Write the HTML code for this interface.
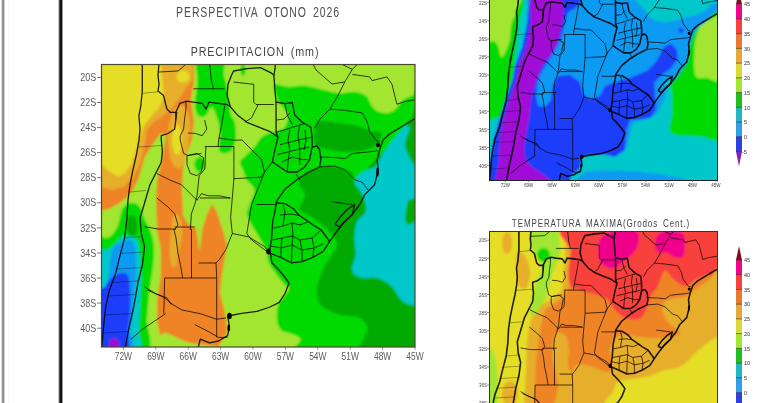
<!DOCTYPE html>
<html><head><meta charset="utf-8">
<style>
html,body{margin:0;padding:0;background:#fff;width:768px;height:403px;overflow:hidden}
svg{display:block}
text{font-family:"Liberation Sans",sans-serif}
</style></head>
<body>
<svg width="768" height="403" viewBox="0 0 768 403">
<defs>
  <filter id="bl" x="-5%" y="-5%" width="110%" height="110%"><feGaussianBlur stdDeviation="0.9"/></filter>
  <filter id="bl2"><feGaussianBlur stdDeviation="0.45"/></filter>
  <filter id="bt" x="-2%" y="-20%" width="104%" height="140%"><feGaussianBlur stdDeviation="0.3"/></filter>
  <clipPath id="cL"><rect x="101" y="64" width="314" height="283"/></clipPath>
  <clipPath id="cT"><rect x="489" y="0" width="229" height="180"/></clipPath>
  <clipPath id="cB"><rect x="489" y="231" width="229" height="172"/></clipPath>
</defs>
<rect width="768" height="403" fill="#fff"/>
<rect x="1" y="0" width="1" height="403" fill="#d8d8d8"/>
<rect x="2" y="0" width="1" height="403" fill="#9a9a9a"/>
<rect x="3" y="0" width="1" height="403" fill="#8c8c8c"/>
<rect x="4" y="0" width="1" height="403" fill="#d0d0d0"/>
<rect x="8" y="0" width="1" height="403" fill="#f6f6f6"/>
<rect x="58" y="0" width="1" height="403" fill="#c8c8c8"/>
<rect x="59" y="0" width="1" height="403" fill="#4a4a4a"/>
<rect x="60" y="0" width="2" height="403" fill="#121212"/>
<rect x="62" y="0" width="1" height="403" fill="#9a9a9a"/>

<g filter="url(#bt)">
<text x="258" y="17" font-size="14" fill="#505050" letter-spacing="1.2" word-spacing="3" text-anchor="middle" transform="translate(258 0) scale(0.75 1) translate(-258 0)">PERSPECTIVA OTONO 2026</text>
<text x="255" y="56" font-size="13.4" fill="#454545" letter-spacing="1.1" word-spacing="3" text-anchor="middle" transform="translate(255 0) scale(0.8 1) translate(-255 0)">PRECIPITACION (mm)</text>
<text x="601" y="227" font-size="11" fill="#454545" letter-spacing="1.2" word-spacing="2.5" text-anchor="middle" transform="translate(601 0) scale(0.73 1) translate(-601 0)">TEMPERATURA MAXIMA(Grodos Cent.)</text>
</g>

<g clip-path="url(#cL)">
  <g filter="url(#bl)"><rect x="90" y="55" width="340" height="300" fill="#a2e632"/><polygon points="90.0,55.0 194.0,55.0 194.0,83.0 191.0,100.0 194.0,122.0 192.0,140.0 186.0,155.0 183.0,170.0 182.0,190.0 183.0,215.0 188.0,224.0 196.0,228.0 198.0,240.0 199.0,252.0 201.0,242.0 202.0,230.0 207.0,214.0 212.0,204.0 217.0,212.0 224.0,234.0 227.0,245.0 225.0,257.0 222.0,275.0 220.0,293.0 223.0,305.0 226.0,318.0 227.0,333.0 221.0,342.0 216.0,352.0 90.0,352.0" fill="#ef8426"/><polygon points="161.0,133.0 166.0,136.0 163.4,149.6 161.0,164.5 157.0,179.4 156.0,200.0 157.0,230.0 160.8,250.0 160.8,275.0 157.0,300.0 157.0,322.0 160.0,335.0 157.0,355.0 90.0,355.0 90.0,211.0 100.0,211.0 110.0,208.6 120.0,203.0 127.0,197.0 133.0,190.0 138.0,180.0 140.0,174.0 144.8,157.0 152.3,144.7" fill="#a2e632"/><path d="M157.0,340.0 C159.5,336.2 162.0,333.5 165.0,333.0 C168.0,332.5 171.3,335.5 175.0,337.0 C178.7,338.5 182.8,340.8 187.0,342.0 C191.2,343.2 195.8,343.8 200.0,344.5 C204.2,345.2 209.0,345.2 212.0,346.0 C215.0,346.8 217.0,347.3 218.0,349.0 C219.0,350.7 229.3,354.8 218.0,356.0 C206.7,357.2 160.2,358.7 150.0,356.0 C139.8,353.3 154.5,343.8 157.0,340.0Z" fill="#a2e632"/><polygon points="90.0,55.0 193.0,55.0 192.0,80.0 186.0,88.0 180.0,98.0 172.0,108.0 163.0,116.0 155.0,121.0 149.0,127.0 147.0,130.0 145.0,143.0 140.0,163.5 133.5,177.0 124.6,186.0 113.0,190.0 100.0,187.0 90.0,186.0" fill="#e6ae2c"/><path d="M176.0,108.0 C178.3,105.7 181.8,104.8 184.0,106.0 C186.2,107.2 188.0,111.0 189.0,115.0 C190.0,119.0 190.3,124.2 190.0,130.0 C189.7,135.8 188.2,144.2 187.0,150.0 C185.8,155.8 184.7,162.0 183.0,165.0 C181.3,168.0 179.0,168.8 177.0,168.0 C175.0,167.2 172.5,164.7 171.0,160.0 C169.5,155.3 168.2,146.7 168.0,140.0 C167.8,133.3 168.7,125.3 170.0,120.0 C171.3,114.7 173.7,110.3 176.0,108.0Z" fill="#e6ae2c"/><path d="M174.0,215.0 C175.3,213.8 178.7,214.7 180.0,218.0 C181.3,221.3 182.3,228.8 182.0,235.0 C181.7,241.2 179.0,249.8 178.0,255.0 C177.0,260.2 177.2,264.5 176.0,266.0 C174.8,267.5 172.0,267.5 171.0,264.0 C170.0,260.5 169.8,251.5 170.0,245.0 C170.2,238.5 171.3,230.0 172.0,225.0 C172.7,220.0 172.7,216.2 174.0,215.0Z" fill="#e6ae2c"/><polygon points="90.0,55.0 161.0,55.0 161.0,64.6 162.6,79.4 164.0,97.0 159.0,108.0 152.0,115.0 144.0,126.0 139.0,138.0 136.0,150.0 132.0,163.0 125.0,173.0 118.0,177.0 109.0,171.0 100.0,164.0 90.0,163.0" fill="#e6dd28"/><ellipse cx="183" cy="76.5" rx="6.5" ry="6" fill="#e6dd28"/><ellipse cx="177" cy="140" rx="5" ry="15" fill="#e6dd28"/><path d="M197.0,56.0 C201.1,52.5 217.5,52.8 222.0,56.0 C226.5,59.2 223.3,70.5 224.0,75.0 C224.7,79.5 225.3,80.2 226.0,83.0 C226.7,85.8 227.5,88.5 228.0,92.0 C228.5,95.5 228.5,100.2 229.0,104.0 C229.5,107.8 230.1,112.0 231.0,115.0 C231.9,118.0 233.9,119.2 234.7,122.3 C235.5,125.4 235.8,130.2 235.9,133.5 C236.0,136.8 235.7,139.2 235.0,142.0 C234.3,144.8 233.5,148.2 232.0,150.0 C230.5,151.8 228.0,152.7 226.0,153.0 C224.0,153.3 221.2,153.4 220.0,152.0 C218.8,150.6 219.0,147.5 219.0,144.7 C219.0,141.9 220.2,138.3 220.2,135.0 C220.2,131.7 219.7,128.3 219.0,125.0 C218.3,121.7 217.0,117.8 216.0,115.0 C215.0,112.2 214.0,109.2 213.0,108.0 C212.0,106.8 211.0,107.0 210.0,108.0 C209.0,109.0 208.2,112.5 207.0,114.0 C205.8,115.5 204.3,116.7 203.0,117.0 C201.7,117.3 200.2,117.0 199.0,116.0 C197.8,115.0 196.6,113.5 196.0,111.0 C195.4,108.5 195.1,104.4 195.2,100.7 C195.3,97.0 196.3,92.8 196.7,88.8 C197.1,84.8 197.3,82.4 197.4,76.9 C197.5,71.4 192.9,59.5 197.0,56.0Z" fill="#06da06"/><ellipse cx="243" cy="70" rx="2.5" ry="6" fill="#06da06"/><ellipse cx="200" cy="164.5" rx="5.5" ry="7.5" fill="#06da06"/><path d="M274.7,84.3 C277.1,83.8 284.7,86.6 289.6,86.8 C294.6,87.0 298.5,85.0 304.4,85.6 C310.2,86.2 318.8,89.0 324.7,90.3 C330.6,91.6 334.6,93.0 339.6,93.3 C344.6,93.5 350.0,91.3 354.5,91.8 C359.0,92.3 363.4,93.8 366.4,96.3 C369.4,98.8 369.8,104.0 372.3,106.7 C374.8,109.4 377.8,111.8 381.3,112.6 C384.8,113.3 389.7,113.2 393.2,111.2 C396.7,109.2 399.0,103.2 402.1,100.7 C405.2,98.2 408.2,97.0 412.0,96.0 C415.8,95.0 422.8,51.8 425.0,95.0 C427.2,138.2 445.2,311.7 425.0,355.0 C404.8,398.3 324.6,357.7 303.8,355.0 C283.1,352.3 302.5,342.5 300.5,339.0 C298.5,335.5 295.2,335.5 292.0,334.0 C288.8,332.5 283.5,332.3 281.0,330.0 C278.5,327.7 277.5,324.2 277.0,320.0 C276.5,315.8 276.8,309.0 278.0,305.0 C279.2,301.0 282.2,298.7 284.0,296.0 C285.8,293.3 289.0,291.0 289.0,289.0 C289.0,287.0 285.6,285.9 284.0,284.0 C282.4,282.1 281.2,280.4 279.3,277.9 C277.4,275.4 274.5,272.0 272.6,269.0 C270.7,266.0 268.9,262.8 268.0,260.0 C267.1,257.2 268.0,255.0 267.0,252.0 C266.0,249.0 264.1,245.7 262.0,242.0 C259.9,238.3 257.0,234.2 254.5,229.6 C252.0,225.0 247.8,218.8 247.0,214.7 C246.2,210.6 248.3,208.9 249.6,204.8 C250.8,200.7 254.9,194.1 254.5,190.0 C254.1,185.9 248.9,183.3 247.0,180.0 C245.1,176.7 244.2,173.0 243.0,170.0 C241.8,167.0 239.7,164.3 240.0,162.0 C240.3,159.7 242.4,158.9 244.9,156.3 C247.4,153.7 251.9,149.7 254.8,146.4 C257.7,143.1 259.0,138.9 262.3,136.4 C265.6,133.9 271.1,132.9 274.7,131.5 C278.3,130.1 281.9,129.9 284.0,128.0 C286.1,126.1 287.1,122.7 287.5,120.0 C287.9,117.3 287.6,114.5 286.5,112.0 C285.4,109.5 282.6,107.2 281.0,105.0 C279.4,102.8 278.0,101.5 277.0,99.0 C276.0,96.5 275.4,92.5 275.0,90.0 C274.6,87.5 272.3,84.8 274.7,84.3Z" fill="#06da06"/><path d="M318.7,121.6 C322.9,119.9 333.1,122.4 339.6,123.1 C346.1,123.8 352.5,124.8 357.5,126.0 C362.5,127.2 365.4,129.2 369.4,130.5 C373.4,131.8 379.8,131.5 381.3,133.5 C382.8,135.5 380.3,139.9 378.3,142.4 C376.3,144.9 373.4,146.9 369.4,148.4 C365.4,149.9 359.5,150.9 354.5,151.4 C349.5,151.9 344.6,151.9 339.6,151.4 C334.6,150.9 328.7,149.4 324.7,148.4 C320.7,147.4 317.4,147.9 315.7,145.4 C314.0,142.9 313.8,137.5 314.3,133.5 C314.8,129.5 314.5,123.3 318.7,121.6Z" fill="#02aa02"/><path d="M297.9,182.0 C299.0,179.9 302.3,174.8 306.8,172.2 C311.3,169.6 319.2,167.0 324.7,166.3 C330.2,165.6 335.1,166.8 339.6,167.8 C344.1,168.8 348.5,170.2 351.5,172.2 C354.5,174.2 353.6,182.0 357.5,180.0 C361.4,178.0 368.8,166.7 375.0,160.0 C381.2,153.3 389.2,146.7 395.0,140.0 C400.8,133.3 405.0,125.0 410.0,120.0 C415.0,115.0 422.5,70.8 425.0,110.0 C427.5,149.2 435.6,314.2 425.0,355.0 C414.4,395.8 371.7,357.6 361.4,355.0 C351.1,352.4 362.4,344.1 363.4,339.5 C364.4,334.9 368.1,331.2 367.4,327.6 C366.7,324.0 363.0,319.7 359.4,317.7 C355.8,315.7 350.1,316.7 345.5,315.7 C340.9,314.7 335.9,313.7 331.6,311.7 C327.3,309.7 322.1,307.1 319.7,303.8 C317.3,300.5 317.3,295.5 317.0,292.0 C316.7,288.5 317.0,286.7 318.0,283.0 C319.0,279.3 321.1,274.2 323.0,270.0 C324.9,265.8 327.2,262.2 329.6,258.0 C332.0,253.8 337.1,248.8 337.1,244.5 C337.1,240.2 333.7,236.7 329.6,232.1 C325.5,227.5 317.2,220.9 312.3,217.2 C307.4,213.5 301.1,213.5 299.9,209.8 C298.6,206.1 304.8,199.0 304.8,194.9 C304.8,190.8 301.0,187.2 299.9,185.0 C298.8,182.8 296.8,184.1 297.9,182.0Z" fill="#02aa02"/><path d="M354.4,182.0 C354.0,185.0 357.7,187.0 359.4,190.0 C361.1,193.0 363.4,196.2 364.4,199.9 C365.4,203.6 366.9,208.6 365.6,212.3 C364.4,216.0 358.8,217.6 356.9,222.2 C355.0,226.8 354.6,234.2 354.4,239.6 C354.2,245.0 356.1,249.7 355.7,254.4 C355.3,259.1 352.1,264.6 352.0,268.0 C351.9,271.4 353.1,273.4 355.0,275.0 C356.9,276.6 359.7,277.4 363.4,277.9 C367.1,278.4 372.7,276.6 377.3,277.9 C381.9,279.2 386.9,281.9 391.2,285.9 C395.5,289.9 399.0,298.5 403.1,301.8 C407.2,305.1 412.4,305.2 416.0,305.7 C419.6,306.2 423.5,318.1 425.0,305.0 C426.5,291.9 428.0,240.5 425.0,227.0 C422.0,213.5 410.2,226.8 407.0,224.0 C403.8,221.2 405.7,214.0 406.0,210.0 C406.3,206.0 407.3,202.3 409.0,200.0 C410.7,197.7 414.8,201.0 416.0,196.0 C417.2,191.0 416.8,175.9 416.0,170.0 C415.2,164.1 412.9,164.4 411.1,160.3 C409.3,156.2 405.6,149.9 405.1,145.4 C404.6,140.9 407.4,136.5 408.1,133.5 C408.9,130.5 410.1,128.8 409.6,127.5 C409.1,126.2 406.6,125.5 405.1,126.0 C403.6,126.5 402.6,128.2 400.6,130.5 C398.6,132.8 395.9,136.0 393.2,139.5 C390.5,143.0 387.3,146.9 384.3,151.4 C381.3,155.9 379.0,162.8 375.3,166.3 C371.6,169.8 365.5,169.6 362.0,172.2 C358.5,174.8 354.8,179.0 354.4,182.0Z" fill="#02c8ca"/><path d="M88.0,237.0 C90.8,217.5 101.0,238.3 105.0,238.0 C109.0,237.7 109.8,237.2 112.0,235.0 C114.2,232.8 116.3,229.2 118.0,225.0 C119.7,220.8 120.5,213.5 122.0,210.0 C123.5,206.5 125.0,205.2 127.0,204.0 C129.0,202.8 131.8,202.5 134.0,203.0 C136.2,203.5 138.3,204.5 140.0,207.0 C141.7,209.5 142.5,214.5 144.0,218.0 C145.5,221.5 147.5,224.3 149.0,228.0 C150.5,231.7 152.2,236.0 153.0,240.0 C153.8,244.0 154.0,247.7 154.0,252.0 C154.0,256.3 153.5,261.3 153.0,266.0 C152.5,270.7 151.7,275.2 151.0,280.0 C150.3,284.8 149.7,288.3 149.0,295.0 C148.3,301.7 147.5,310.5 147.0,320.0 C146.5,329.5 155.8,346.2 146.0,352.0 C136.2,357.8 97.7,374.2 88.0,355.0 C78.3,335.8 85.2,256.5 88.0,237.0Z" fill="#06da06"/><ellipse cx="132" cy="226" rx="5" ry="11" fill="#02aa02"/><path d="M88.0,250.0 C90.8,232.3 100.5,251.0 105.0,250.0 C109.5,249.0 112.3,246.2 115.0,244.0 C117.7,241.8 118.5,238.3 121.0,237.0 C123.5,235.7 127.3,235.5 130.0,236.0 C132.7,236.5 135.3,236.8 137.0,240.0 C138.7,243.2 139.3,248.3 140.0,255.0 C140.7,261.7 141.0,270.8 141.0,280.0 C141.0,289.2 140.3,301.7 140.0,310.0 C139.7,318.3 139.3,322.3 139.0,330.0 C138.7,337.7 146.5,351.7 138.0,356.0 C129.5,360.3 96.3,373.7 88.0,356.0 C79.7,338.3 85.2,267.7 88.0,250.0Z" fill="#02c8ca"/><path d="M88.0,293.0 C90.3,282.0 98.7,292.2 102.0,290.0 C105.3,287.8 106.7,284.7 108.0,280.0 C109.3,275.3 109.2,267.3 110.0,262.0 C110.8,256.7 111.3,251.2 113.0,248.0 C114.7,244.8 117.5,244.3 120.0,243.0 C122.5,241.7 125.7,239.8 128.0,240.0 C130.3,240.2 132.7,240.3 134.0,244.0 C135.3,247.7 135.8,255.2 136.0,262.0 C136.2,268.8 135.5,277.0 135.0,285.0 C134.5,293.0 133.7,302.5 133.0,310.0 C132.3,317.5 131.5,322.3 131.0,330.0 C130.5,337.7 137.2,351.7 130.0,356.0 C122.8,360.3 95.0,366.5 88.0,356.0 C81.0,345.5 85.7,304.0 88.0,293.0Z" fill="#0c9af2"/><path d="M88.0,292.0 C90.5,280.7 99.7,289.7 103.0,288.0 C106.3,286.3 106.2,284.0 108.0,282.0 C109.8,280.0 111.7,277.5 114.0,276.0 C116.3,274.5 119.7,273.0 122.0,273.0 C124.3,273.0 126.7,273.2 128.0,276.0 C129.3,278.8 129.7,284.0 130.0,290.0 C130.3,296.0 130.3,305.3 130.0,312.0 C129.7,318.7 128.7,322.7 128.0,330.0 C127.3,337.3 132.7,351.7 126.0,356.0 C119.3,360.3 94.3,366.7 88.0,356.0 C81.7,345.3 85.5,303.3 88.0,292.0Z" fill="#1e3cfa"/><ellipse cx="114" cy="344" rx="5" ry="6" fill="#a00cd6"/></g>
  <g filter="url(#bl2)"><g fill="#000"><ellipse cx="229.5" cy="316.0" rx="2.20" ry="3.20"/><ellipse cx="228.7" cy="328.0" rx="1.30" ry="3.50"/><ellipse cx="268.5" cy="251.5" rx="2.30" ry="3.00"/><ellipse cx="378.0" cy="145.0" rx="2.00" ry="2.20"/><ellipse cx="377.5" cy="172.0" rx="1.30" ry="4.50"/><ellipse cx="344.0" cy="63.0" rx="1.20" ry="2.20"/></g><g fill="none" stroke="#000" stroke-width="0.76" stroke-opacity="0.45"><polyline points="142.3,93.3 158.0,91.8"/><polyline points="138.0,147.0 161.5,145.5"/><polyline points="130.0,192.0 146.0,190.5"/><polyline points="124.6,238.0 141.5,236.5"/><polyline points="120.0,253.5 144.0,252.0"/><polyline points="116.0,269.0 143.0,267.5"/><polyline points="112.0,282.5 138.0,281.0"/><polyline points="108.0,296.0 135.5,294.5"/><polyline points="104.6,315.0 132.0,313.5"/><polyline points="103.0,333.0 128.0,331.5"/></g><g fill="none" stroke="#000" stroke-width="0.95" stroke-linejoin="round" stroke-opacity="0.78"><polyline points="159.0,72.0 178.0,71.0 184.7,65.4 190.0,58.0"/><polyline points="193.4,88.8 224.7,88.8"/><polyline points="209.0,58.0 211.3,80.0 213.5,88.8"/><polyline points="186.0,101.0 185.9,110.0 184.7,117.9 183.6,129.0 180.3,135.7 180.2,140.0 183.6,153.4 188.0,155.6 194.7,154.5 201.4,153.4"/><polyline points="175.8,112.3 177.0,112.3 175.8,120.0"/><polyline points="204.6,120.0 206.8,129.0 202.3,135.7 195.6,133.5 188.0,133.0"/><polyline points="224.7,105.6 222.5,120.0 219.0,138.0 218.0,146.5"/><polyline points="219.0,138.0 233.6,140.2 242.0,140.0 251.6,149.7 261.3,159.4 264.5,172.3"/><polyline points="156.8,173.5 170.2,180.2 181.3,184.6 190.3,193.6 197.0,200.3 201.4,193.6 208.0,195.8 219.3,195.8 230.0,198.0"/><polyline points="156.8,198.0 168.0,207.0 174.6,213.7 178.0,224.8 174.6,230.0"/><polyline points="174.6,227.0 194.7,227.0"/><polyline points="204.8,146.5 233.9,146.5 233.9,178.7"/><polyline points="205.9,146.7 204.8,169.0 199.2,175.7 197.0,195.8 194.7,204.7 191.4,213.7 190.3,230.0"/><polyline points="187.0,155.6 197.0,153.4 203.7,157.9 201.4,171.3 197.0,175.7 190.3,173.5 187.0,164.6 187.0,155.6"/><polyline points="233.9,178.7 261.3,177.1 264.5,172.3"/><polyline points="233.9,178.7 232.3,198.0 230.6,217.4 232.3,233.5 225.8,249.7 219.4,259.4 216.0,263.0"/><polyline points="200.0,198.0 216.0,198.0 230.6,198.0"/><polyline points="232.3,233.5 248.4,236.8 264.5,246.5 269.4,253.0"/><polyline points="264.5,172.3 258.0,188.4 251.6,204.5 248.4,223.9 246.8,233.5 251.6,240.0 264.5,249.7 269.4,253.0"/><polyline points="256.5,204.5 274.2,204.5 277.0,205.0"/><polyline points="264.5,172.3 272.4,162.0"/><polyline points="296.0,174.0 300.0,180.0"/><polyline points="144.6,226.7 158.0,229.0 171.4,229.0 176.0,229.0"/><polyline points="173.7,229.0 176.0,237.9 178.0,253.5 180.4,264.6 182.6,278.0"/><polyline points="191.5,229.0 191.5,278.0"/><polyline points="198.6,263.0 216.0,263.0"/><polyline points="164.7,278.0 216.7,278.0"/><polyline points="164.7,278.0 163.8,313.7"/><polyline points="216.0,263.0 216.7,278.0 216.7,337.4"/><polyline points="144.6,287.0 155.8,293.7 167.0,298.0 171.4,304.8"/><polyline points="147.4,290.0 163.8,297.3 172.9,304.6 182.0,310.0 200.3,313.7 216.7,319.2 226.0,318.0"/><polyline points="131.0,339.2 143.7,328.3 154.7,321.0 165.6,313.7"/><polyline points="194.8,324.6 209.4,332.0 218.5,337.4 227.6,337.4"/><polyline points="233.6,82.0 253.7,84.3 253.7,102.2 256.0,104.5 273.9,104.5"/><polyline points="258.2,104.5 251.5,117.9 244.8,122.3"/><polyline points="276.0,132.3 284.8,129.8 292.3,127.3 304.7,123.6"/><polyline points="284.8,103.5 287.3,114.9 292.3,124.8"/><polyline points="279.9,144.7 289.8,142.2 299.7,139.7 312.1,137.2"/><polyline points="277.4,154.6 287.3,152.1 297.2,149.6 309.6,147.1"/><polyline points="282.0,162.0 292.3,157.1 302.2,159.6 308.4,159.6"/><polyline points="289.8,129.8 288.0,140.0 289.8,150.0 288.0,162.0 287.3,172.0"/><polyline points="299.7,124.8 298.0,135.0 299.7,148.0 299.7,164.5"/><polyline points="276.5,120.0 284.0,119.0 290.0,113.0"/><polyline points="305.0,130.0 306.0,140.0 304.0,150.0"/><polyline points="342.3,58.0 342.3,64.5 352.3,69.4 357.2,64.5 360.0,58.0"/><polyline points="352.3,69.4 344.8,81.9 337.4,96.7 329.9,109.1 320.0,119.0 314.6,128.2"/><polyline points="352.3,74.4 369.6,76.9 372.1,80.6 387.0,76.9 392.0,84.3 394.4,94.3 396.9,104.2 404.4,101.7 420.0,99.0"/><polyline points="329.9,109.1 344.8,110.4 362.2,112.9 367.1,121.6 369.6,131.5 377.1,141.4 380.0,142.0"/><polyline points="319.6,157.0 334.4,157.5 344.8,158.6 352.3,153.6 374.6,151.2 378.0,150.5"/><polyline points="319.6,167.0 334.4,166.0 344.8,169.8 354.7,179.7 362.2,182.2 368.0,190.0"/><polyline points="332.4,202.0 352.3,204.5"/><polyline points="310.0,58.0 316.0,70.0 332.0,84.0 344.8,81.9"/><polyline points="280.0,215.0 290.0,214.0 299.0,215.3"/><polyline points="273.0,228.0 283.0,226.0 292.0,223.0 300.0,225.0 308.5,221.6"/><polyline points="272.0,240.0 282.0,238.0 292.0,236.0 300.0,240.0 312.0,238.0 321.2,230.0"/><polyline points="292.0,223.0 293.0,235.0 292.0,245.0 291.6,262.8"/><polyline points="300.0,240.0 302.0,250.0 302.2,261.7"/><polyline points="312.0,238.0 314.0,248.0 312.7,257.5"/><polyline points="282.0,238.0 281.0,248.0 281.0,257.5"/><polyline points="271.0,246.0 281.0,248.0 292.0,245.0 302.0,250.0 314.0,248.0 323.0,244.0"/><polyline points="283.0,205.0 285.0,212.0 283.0,226.0"/></g><g fill="none" stroke="#000" stroke-width="1.3" stroke-linejoin="round" stroke-opacity="0.8500000000000001"><polyline points="142.3,58.0 142.3,91.0 140.7,106.7 138.9,115.6 140.0,129.0 139.0,140.0 136.7,153.4 132.2,173.5 130.0,184.6 128.0,200.0 126.8,220.0 124.6,237.9 120.0,255.7 115.6,273.6 109.0,291.4 105.5,308.2 103.6,326.5 101.8,346.5 101.0,355.0"/><polyline points="159.0,58.0 159.0,64.0 158.0,75.4 159.0,84.3 158.0,91.0 163.5,95.5 166.9,109.0 170.2,112.3 175.8,112.3 175.8,120.0 174.7,129.0 168.0,133.5 161.3,135.7 161.3,140.0 162.4,151.2 161.3,162.3 156.8,171.3 150.0,184.6 146.7,195.8 143.4,207.0 140.0,218.0 141.3,233.4 144.6,246.8 142.4,264.6 138.0,282.5 135.7,295.9 133.5,308.0 129.2,326.5 125.5,346.5 125.0,355.0"/><polyline points="175.8,112.3 180.0,103.3 186.7,101.1 193.4,102.2 202.3,103.3 206.0,109.0 209.0,102.2 218.0,103.3 227.0,104.5 230.3,106.7"/><polyline points="230.3,106.7 227.0,95.5 228.0,84.3 231.4,75.4 233.6,71.0 247.0,68.7 260.4,67.6 271.6,73.2 273.9,75.4"/><polyline points="273.9,75.4 275.0,68.7 276.0,58.0"/><polyline points="273.9,75.4 275.0,91.0 276.0,102.0 284.8,103.7 292.3,102.5 294.7,114.9 302.2,122.3 310.9,127.3 312.1,137.2 312.1,147.1"/><polyline points="230.3,106.7 238.0,115.6 247.0,122.3 258.2,126.8 269.4,131.3 278.0,137.0"/><polyline points="276.0,102.0 276.1,120.0 276.1,132.3 278.0,137.0 274.9,149.6 272.4,162.0"/><polyline points="312.1,147.1 309.6,159.6 304.7,167.0 297.2,172.0 287.3,172.0 279.9,167.0 272.4,162.0"/><polyline points="312.1,147.1 317.0,146.0 319.6,149.6 320.8,159.6 319.6,167.0 307.1,173.2 297.2,179.4 284.8,189.3 277.4,200.0 276.0,203.0 275.8,206.9 272.7,221.6 271.6,238.5 269.5,251.2 270.5,253.3"/><polyline points="276.0,203.0 285.3,203.7 293.8,209.0 299.0,215.3 308.5,221.6 312.7,224.8 321.2,230.0 327.5,238.5 329.6,241.7"/><polyline points="329.6,241.7 323.3,251.2 312.7,257.5 302.2,261.7 291.6,262.8 281.0,257.5 270.5,253.3"/><polyline points="420.0,117.0 414.3,119.0 401.9,126.5 389.5,134.0 383.0,140.0 379.6,150.0 377.1,159.9 378.3,169.8 374.6,184.7 364.7,194.6 359.7,204.5 352.3,214.4 342.3,224.4 334.9,234.0 329.6,241.7"/><polyline points="334.9,224.4 340.0,217.0 347.3,209.5 354.7,204.5 352.3,214.4 345.0,221.0 339.9,226.8 334.9,224.4"/><polyline points="270.5,253.3 272.0,263.0 278.0,269.0 284.0,276.0 289.0,283.0 285.0,293.5 279.3,302.4 270.0,307.0 257.0,311.3 240.0,313.7 231.0,315.5 227.6,315.5 229.4,326.5 227.6,335.6 218.5,341.0 209.4,342.9 200.3,339.2 198.4,346.5 198.0,355.0"/></g></g>
</g>
<rect x="101.5" y="64.5" width="313.5" height="282.5" fill="none" stroke="#4a4a2a" stroke-width="1.2"/>
<g font-size="9.5" fill="#5c5c5c" stroke="none" filter="url(#bt)"><text transform="translate(96.3 81.0) scale(0.9 1)" text-anchor="end" font-size="10">20S</text><line x1="97" x2="101" y1="77.4" y2="77.4" stroke="#555" stroke-width="0.8"/><text transform="translate(96.3 106.1) scale(0.9 1)" text-anchor="end" font-size="10">22S</text><line x1="97" x2="101" y1="102.5" y2="102.5" stroke="#555" stroke-width="0.8"/><text transform="translate(96.3 131.2) scale(0.9 1)" text-anchor="end" font-size="10">24S</text><line x1="97" x2="101" y1="127.6" y2="127.6" stroke="#555" stroke-width="0.8"/><text transform="translate(96.3 156.2) scale(0.9 1)" text-anchor="end" font-size="10">26S</text><line x1="97" x2="101" y1="152.6" y2="152.6" stroke="#555" stroke-width="0.8"/><text transform="translate(96.3 181.3) scale(0.9 1)" text-anchor="end" font-size="10">28S</text><line x1="97" x2="101" y1="177.7" y2="177.7" stroke="#555" stroke-width="0.8"/><text transform="translate(96.3 206.4) scale(0.9 1)" text-anchor="end" font-size="10">30S</text><line x1="97" x2="101" y1="202.8" y2="202.8" stroke="#555" stroke-width="0.8"/><text transform="translate(96.3 231.5) scale(0.9 1)" text-anchor="end" font-size="10">32S</text><line x1="97" x2="101" y1="227.9" y2="227.9" stroke="#555" stroke-width="0.8"/><text transform="translate(96.3 256.6) scale(0.9 1)" text-anchor="end" font-size="10">34S</text><line x1="97" x2="101" y1="253.0" y2="253.0" stroke="#555" stroke-width="0.8"/><text transform="translate(96.3 281.6) scale(0.9 1)" text-anchor="end" font-size="10">36S</text><line x1="97" x2="101" y1="278.0" y2="278.0" stroke="#555" stroke-width="0.8"/><text transform="translate(96.3 306.7) scale(0.9 1)" text-anchor="end" font-size="10">38S</text><line x1="97" x2="101" y1="303.1" y2="303.1" stroke="#555" stroke-width="0.8"/><text transform="translate(96.3 331.8) scale(0.9 1)" text-anchor="end" font-size="10">40S</text><line x1="97" x2="101" y1="328.2" y2="328.2" stroke="#555" stroke-width="0.8"/><text transform="translate(123.4 359.6) scale(0.8 1)" text-anchor="middle" font-size="10.5">72W</text><line x1="123.4" x2="123.4" y1="347" y2="349.5" stroke="#666" stroke-width="0.8"/><text transform="translate(155.8 359.6) scale(0.8 1)" text-anchor="middle" font-size="10.5">69W</text><line x1="155.8" x2="155.8" y1="347" y2="349.5" stroke="#666" stroke-width="0.8"/><text transform="translate(188.2 359.6) scale(0.8 1)" text-anchor="middle" font-size="10.5">66W</text><line x1="188.2" x2="188.2" y1="347" y2="349.5" stroke="#666" stroke-width="0.8"/><text transform="translate(220.6 359.6) scale(0.8 1)" text-anchor="middle" font-size="10.5">63W</text><line x1="220.6" x2="220.6" y1="347" y2="349.5" stroke="#666" stroke-width="0.8"/><text transform="translate(253.0 359.6) scale(0.8 1)" text-anchor="middle" font-size="10.5">60W</text><line x1="253.0" x2="253.0" y1="347" y2="349.5" stroke="#666" stroke-width="0.8"/><text transform="translate(285.4 359.6) scale(0.8 1)" text-anchor="middle" font-size="10.5">57W</text><line x1="285.4" x2="285.4" y1="347" y2="349.5" stroke="#666" stroke-width="0.8"/><text transform="translate(317.8 359.6) scale(0.8 1)" text-anchor="middle" font-size="10.5">54W</text><line x1="317.8" x2="317.8" y1="347" y2="349.5" stroke="#666" stroke-width="0.8"/><text transform="translate(350.2 359.6) scale(0.8 1)" text-anchor="middle" font-size="10.5">51W</text><line x1="350.2" x2="350.2" y1="347" y2="349.5" stroke="#666" stroke-width="0.8"/><text transform="translate(382.6 359.6) scale(0.8 1)" text-anchor="middle" font-size="10.5">48W</text><line x1="382.6" x2="382.6" y1="347" y2="349.5" stroke="#666" stroke-width="0.8"/><text transform="translate(415.0 359.6) scale(0.8 1)" text-anchor="middle" font-size="10.5">45W</text><line x1="415.0" x2="415.0" y1="347" y2="349.5" stroke="#666" stroke-width="0.8"/></g>
<g stroke="#555" stroke-width="0.8"></g>

<g clip-path="url(#cT)">
  <g filter="url(#bl)"><rect x="480" y="-5" width="245" height="195" fill="#0c9af2"/><path d="M480.0,-5.0 C487.8,-32.2 519.3,-10.8 527.0,-5.0 C534.7,0.8 526.8,19.2 526.0,30.0 C525.2,40.8 523.3,51.7 522.0,60.0 C520.7,68.3 519.5,73.3 518.0,80.0 C516.5,86.7 515.0,93.3 513.0,100.0 C511.0,106.7 508.2,113.3 506.0,120.0 C503.8,126.7 501.5,134.2 500.0,140.0 C498.5,145.8 500.3,152.0 497.0,155.0 C493.7,158.0 482.8,184.7 480.0,158.0 C477.2,131.3 472.2,22.2 480.0,-5.0Z" fill="#02c8ca"/><path d="M480.0,-5.0 C486.8,-25.3 514.5,-10.0 521.0,-5.0 C527.5,0.0 519.8,15.8 519.0,25.0 C518.2,34.2 517.0,41.7 516.0,50.0 C515.0,58.3 514.0,67.5 513.0,75.0 C512.0,82.5 511.3,89.2 510.0,95.0 C508.7,100.8 506.7,106.3 505.0,110.0 C503.3,113.7 501.8,115.7 500.0,117.0 C498.2,118.3 497.3,118.0 494.0,118.0 C490.7,118.0 482.3,137.5 480.0,117.0 C477.7,96.5 473.2,15.3 480.0,-5.0Z" fill="#06da06"/><path d="M480.0,-5.0 C486.5,-12.7 513.0,-7.8 519.0,-5.0 C525.0,-2.2 517.5,7.0 516.3,11.8 C515.1,16.6 512.6,19.7 511.6,23.6 C510.6,27.5 510.8,32.2 510.4,35.4 C510.0,38.5 510.2,39.4 509.2,42.5 C508.2,45.6 505.9,51.9 504.5,54.2 C503.1,56.6 502.2,58.2 501.0,56.6 C499.8,55.0 498.8,47.3 497.4,44.8 C496.0,42.2 495.6,41.9 492.7,41.3 C489.8,40.7 482.1,48.7 480.0,41.0 C477.9,33.3 473.5,2.7 480.0,-5.0Z" fill="#a2e632"/><path d="M565.0,190.0 C538.7,187.7 565.0,180.2 567.0,176.0 C569.0,171.8 574.7,168.3 577.0,165.0 C579.3,161.7 578.5,158.0 581.0,156.0 C583.5,154.0 588.3,153.2 592.0,153.0 C595.7,152.8 599.0,154.7 603.0,155.0 C607.0,155.3 612.3,156.0 616.0,155.0 C619.7,154.0 622.8,151.8 625.0,149.0 C627.2,146.2 627.7,142.2 629.0,138.0 C630.3,133.8 630.5,127.0 633.0,124.0 C635.5,121.0 640.5,121.3 644.0,120.0 C647.5,118.7 651.3,118.0 654.0,116.0 C656.7,114.0 658.2,111.3 660.0,108.0 C661.8,104.7 664.0,100.2 665.0,96.0 C666.0,91.8 664.8,85.7 666.0,83.0 C667.2,80.3 662.2,80.5 672.0,80.0 C681.8,79.5 716.2,61.7 725.0,80.0 C733.8,98.3 751.7,171.7 725.0,190.0 C698.3,208.3 591.3,192.3 565.0,190.0Z" fill="#02c8ca"/><path d="M640.0,-5.0 C626.7,-2.5 643.0,6.0 645.0,10.0 C647.0,14.0 648.5,17.0 652.0,19.0 C655.5,21.0 661.3,22.0 666.0,22.0 C670.7,22.0 675.7,20.0 680.0,19.0 C684.3,18.0 688.2,17.2 692.0,16.0 C695.8,14.8 699.8,13.8 703.0,12.0 C706.2,10.2 707.3,7.8 711.0,5.0 C714.7,2.2 736.8,-3.3 725.0,-5.0 C713.2,-6.7 653.3,-7.5 640.0,-5.0Z" fill="#02c8ca"/><path d="M725.0,17.7 C721.5,-1.8 708.9,21.1 703.8,23.6 C698.7,26.2 696.7,29.1 694.3,33.0 C691.9,36.9 690.8,42.5 689.6,47.2 C688.4,51.9 689.3,56.6 687.3,61.3 C685.3,66.0 680.5,71.6 677.8,75.5 C675.0,79.4 671.8,81.7 670.8,84.9 C669.8,88.2 671.8,90.2 672.0,95.0 C672.2,99.8 672.4,108.0 672.0,113.9 C671.6,119.9 668.5,127.1 669.7,130.7 C670.9,134.3 674.2,134.5 679.4,135.5 C684.6,136.5 695.0,135.9 701.0,136.7 C707.0,137.5 711.4,139.7 715.4,140.3 C719.4,140.9 723.4,160.7 725.0,140.3 C726.6,119.9 728.5,37.2 725.0,17.7Z" fill="#06da06"/><path d="M725.0,18.9 C721.5,9.9 708.5,20.9 703.8,23.6 C699.1,26.4 698.3,30.7 696.7,35.4 C695.1,40.1 694.5,45.2 694.3,51.9 C694.1,58.6 693.5,71.2 695.5,75.5 C697.5,79.8 701.1,77.4 706.0,77.8 C710.9,78.2 721.8,87.6 725.0,77.8 C728.2,68.0 728.5,27.9 725.0,18.9Z" fill="#a2e632"/><polygon points="529.0,-5.0 527.0,23.6 522.0,47.2 515.0,66.0 512.5,80.0 510.5,85.0 504.0,105.0 498.5,122.0 493.5,140.0 490.5,160.0 486.0,190.0 569.0,190.0 569.6,182.0 571.3,175.6 580.0,168.6 581.7,156.5 592.0,154.7 603.0,154.0 615.0,157.0 625.0,150.0 626.5,130.0 630.0,120.0 650.0,118.0 656.0,110.0 655.0,95.0 654.2,82.5 661.3,75.5 670.8,68.4 677.8,59.0 676.7,49.5 670.8,43.6 663.7,47.2 656.6,61.3 647.2,70.8 630.7,77.8 614.2,82.5 605.0,86.0 600.0,96.0 590.0,99.0 583.0,94.0 580.0,82.0 570.0,75.0 558.0,76.0 553.0,85.0 551.0,100.0 545.0,107.0 538.0,106.0 536.0,96.0 537.0,85.0 540.0,75.0 545.0,66.0 551.0,57.0 557.0,47.0 562.0,35.0 565.0,22.0 568.0,12.0 575.0,8.0 580.0,3.0 581.0,-5.0" fill="#1e3cfa"/><ellipse cx="681" cy="30.5" rx="2.5" ry="2.5" fill="#1e3cfa"/><path d="M574.0,184.0 C575.7,181.8 578.8,175.2 584.0,173.0 C589.2,170.8 596.5,170.8 605.0,170.5 C613.5,170.2 625.0,170.8 635.0,171.5 C645.0,172.2 655.8,173.4 665.0,175.0 C674.2,176.6 685.8,179.2 690.0,181.0 C694.2,182.8 709.3,185.2 690.0,186.0 C670.7,186.8 593.3,186.3 574.0,186.0 C554.7,185.7 572.3,186.2 574.0,184.0Z" fill="#0c9af2"/><path d="M532.8,-5.0 C528.1,-0.2 531.7,14.9 530.5,23.6 C529.3,32.3 527.7,40.1 525.7,47.2 C523.7,54.3 520.3,60.5 518.7,66.0 C517.1,71.5 517.0,77.0 516.3,80.2 C515.6,83.4 515.9,80.9 514.5,85.0 C513.1,89.1 509.9,98.8 508.0,105.0 C506.1,111.2 504.3,116.2 503.0,122.0 C501.7,127.8 500.7,133.7 500.0,140.0 C499.3,146.3 499.0,151.7 499.0,160.0 C499.0,168.3 491.2,185.0 500.0,190.0 C508.8,195.0 544.2,192.1 552.0,190.0 C559.8,187.9 549.6,180.6 547.0,177.3 C544.4,174.0 540.1,173.2 536.6,170.3 C533.1,167.4 528.2,164.1 526.2,160.0 C524.2,155.9 524.5,150.3 524.5,146.0 C524.5,141.7 525.4,139.1 526.2,133.9 C527.0,128.7 528.7,120.7 529.5,115.0 C530.3,109.3 530.2,104.5 531.0,100.0 C531.8,95.5 532.9,91.7 534.0,88.0 C535.1,84.3 536.1,81.5 537.5,77.8 C538.9,74.1 540.2,69.5 542.2,66.0 C544.2,62.5 546.9,60.1 549.3,56.6 C551.7,53.1 554.4,49.5 556.4,44.8 C558.4,40.1 559.9,33.8 561.1,28.3 C562.3,22.8 563.9,17.4 563.5,11.8 C563.1,6.3 563.9,-2.2 558.8,-5.0 C553.7,-7.8 537.5,-9.8 532.8,-5.0Z" fill="#a00cd6"/></g>
  <g filter="url(#bl2)"><g fill="#000"><ellipse cx="581.9" cy="156.8" rx="1.59" ry="2.31"/><ellipse cx="581.3" cy="165.5" rx="0.94" ry="2.53"/><ellipse cx="610.1" cy="110.2" rx="1.66" ry="2.17"/><ellipse cx="689.2" cy="33.4" rx="1.44" ry="1.59"/><ellipse cx="688.8" cy="52.9" rx="0.94" ry="3.25"/><ellipse cx="664.6" cy="-25.8" rx="0.87" ry="1.59"/></g><g fill="none" stroke="#000" stroke-width="0.7200000000000001" stroke-opacity="0.45"><polyline points="518.9,-3.9 530.3,-5.0"/><polyline points="515.8,34.8 532.8,33.7"/><polyline points="510.1,67.3 521.6,66.2"/><polyline points="506.2,100.5 518.4,99.4"/><polyline points="502.8,111.7 520.2,110.6"/><polyline points="500.0,122.9 519.5,121.8"/><polyline points="497.1,132.6 515.8,131.5"/><polyline points="494.2,142.4 514.0,141.3"/><polyline points="491.7,156.1 511.5,155.0"/><polyline points="490.6,169.1 508.6,168.0"/></g><g fill="none" stroke="#000" stroke-width="0.9" stroke-linejoin="round" stroke-opacity="0.78"><polyline points="531.0,-19.3 544.7,-20.0 549.6,-24.1 553.4,-29.4"/><polyline points="555.9,-7.2 578.5,-7.2"/><polyline points="567.1,-29.4 568.8,-13.5 570.4,-7.2"/><polyline points="550.5,1.6 550.4,8.1 549.6,13.8 548.8,21.8 546.4,26.7 546.3,29.8 548.8,39.4 552.0,41.0 556.8,40.2 561.6,39.4"/><polyline points="543.1,9.8 544.0,9.8 543.1,15.3"/><polyline points="563.9,15.3 565.5,21.8 562.3,26.7 557.4,25.1 552.0,24.7"/><polyline points="578.5,5.0 576.9,15.3 574.3,28.3 573.6,34.5"/><polyline points="574.3,28.3 584.9,29.9 591.0,29.8 597.9,36.8 604.9,43.8 607.2,53.1"/><polyline points="529.4,54.0 539.1,58.8 547.1,62.0 553.6,68.5 558.5,73.3 561.6,68.5 566.4,70.0 574.6,70.0 582.3,71.6"/><polyline points="529.4,71.6 537.5,78.1 542.3,83.0 544.7,91.0 542.3,94.7"/><polyline points="542.3,92.6 556.8,92.6"/><polyline points="564.1,34.5 585.1,34.5 585.1,57.7"/><polyline points="564.9,34.6 564.1,50.7 560.0,55.5 558.5,70.0 556.8,76.5 554.4,83.0 553.6,94.7"/><polyline points="551.2,41.0 558.5,39.4 563.3,42.7 561.6,52.4 558.5,55.5 553.6,54.0 551.2,47.5 551.2,41.0"/><polyline points="585.1,57.7 604.9,56.6 607.2,53.1"/><polyline points="585.1,57.7 583.9,71.6 582.7,85.6 583.9,97.3 579.3,108.9 574.6,115.9 572.2,118.5"/><polyline points="560.6,71.6 572.2,71.6 582.7,71.6"/><polyline points="583.9,97.3 595.6,99.6 607.2,106.6 610.7,111.3"/><polyline points="607.2,53.1 602.5,64.7 597.9,76.3 595.6,90.3 594.4,97.3 597.9,101.9 607.2,108.9 610.7,111.3"/><polyline points="601.4,76.3 614.2,76.3 616.2,76.7"/><polyline points="607.2,53.1 612.9,45.7"/><polyline points="630.0,54.3 632.8,58.6"/><polyline points="520.6,92.3 530.3,94.0 540.0,94.0 543.3,94.0"/><polyline points="541.6,94.0 543.3,100.4 544.7,111.7 546.5,119.7 548.1,129.4"/><polyline points="554.5,94.0 554.5,129.4"/><polyline points="559.6,118.5 572.2,118.5"/><polyline points="535.1,129.4 572.7,129.4"/><polyline points="535.1,129.4 534.5,155.1"/><polyline points="572.2,118.5 572.7,129.4 572.7,172.2"/><polyline points="520.6,135.9 528.7,140.7 536.8,143.8 540.0,148.7"/><polyline points="522.6,138.0 534.5,143.3 541.0,148.6 547.6,152.5 560.8,155.1 572.7,159.1 579.4,158.2"/><polyline points="510.8,173.5 520.0,165.7 527.9,160.4 535.8,155.1"/><polyline points="556.9,163.0 567.4,168.3 574.0,172.2 580.6,172.2"/><polyline points="584.9,-12.1 599.4,-10.4 599.4,2.5 601.1,4.2 614.0,4.2"/><polyline points="602.7,4.2 597.8,13.8 593.0,17.0"/><polyline points="615.5,24.2 621.9,22.4 627.3,20.6 636.2,17.9"/><polyline points="621.9,3.4 623.7,11.7 627.3,18.8"/><polyline points="618.3,33.2 625.5,31.4 632.6,29.6 641.6,27.8"/><polyline points="616.5,40.3 623.7,38.5 630.8,36.7 639.8,34.9"/><polyline points="619.8,45.7 627.3,42.1 634.4,43.9 638.9,43.9"/><polyline points="625.5,22.4 624.2,29.8 625.5,37.0 624.2,45.7 623.7,52.9"/><polyline points="632.6,18.8 631.4,26.2 632.6,35.6 632.6,47.5"/><polyline points="615.9,15.3 621.3,14.6 625.6,10.3"/><polyline points="636.5,22.6 637.2,29.8 635.7,37.0"/><polyline points="663.4,-29.4 663.4,-24.7 670.6,-21.2 674.2,-24.7 676.2,-29.4"/><polyline points="670.6,-21.2 665.2,-12.2 659.9,-1.5 654.4,7.5 647.3,14.6 643.4,21.3"/><polyline points="670.6,-17.6 683.1,-15.8 684.9,-13.1 695.7,-15.8 699.3,-10.4 701.0,-3.2 702.8,3.9 708.2,2.1 719.5,0.2"/><polyline points="654.4,7.5 665.2,8.4 677.8,10.2 681.3,16.5 683.1,23.6 688.5,30.8 690.6,31.2"/><polyline points="647.0,42.0 657.7,42.4 665.2,43.2 670.6,39.6 686.7,37.9 689.2,37.4"/><polyline points="647.0,49.3 657.7,48.5 665.2,51.3 672.3,58.4 677.8,60.2 682.0,65.9"/><polyline points="656.2,74.5 670.6,76.3"/><polyline points="640.1,-29.4 644.4,-20.7 656.0,-10.6 665.2,-12.2"/><polyline points="618.4,83.9 625.6,83.2 632.1,84.1"/><polyline points="613.3,93.3 620.6,91.8 627.1,89.7 632.8,91.1 639.0,88.7"/><polyline points="612.6,101.9 619.8,100.5 627.1,99.1 632.8,101.9 641.5,100.5 648.2,94.7"/><polyline points="627.1,89.7 627.8,98.3 627.1,105.6 626.8,118.4"/><polyline points="632.8,101.9 634.3,109.2 634.4,117.6"/><polyline points="641.5,100.5 643.0,107.7 642.0,114.6"/><polyline points="619.8,100.5 619.1,107.7 619.1,114.6"/><polyline points="611.9,106.3 619.1,107.7 627.1,105.6 634.3,109.2 643.0,107.7 649.5,104.8"/><polyline points="620.6,76.7 622.0,81.7 620.6,91.8"/></g><g fill="none" stroke="#000" stroke-width="1.6" stroke-linejoin="round" stroke-opacity="0.8500000000000001"><polyline points="518.9,-29.4 518.9,-5.6 517.8,5.7 516.5,12.2 517.3,21.8 516.6,29.8 514.9,39.4 511.7,54.0 510.1,62.0 508.6,73.1 507.8,87.5 506.2,100.4 502.8,113.3 499.7,126.2 494.9,139.0 492.4,151.2 491.0,164.4 489.7,178.8 489.1,184.9"/><polyline points="531.0,-29.4 531.0,-25.1 530.3,-16.8 531.0,-10.4 530.3,-5.6 534.3,-2.3 536.7,7.4 539.1,9.8 543.1,9.8 543.1,15.3 542.3,21.8 537.5,25.1 532.7,26.7 532.7,29.8 533.5,37.9 532.7,45.9 529.4,52.4 524.5,62.0 522.1,70.0 519.7,78.1 517.3,86.1 518.2,97.2 520.6,106.9 519.0,119.7 515.8,132.6 514.2,142.3 512.6,151.0 509.5,164.4 506.8,178.8 506.5,184.9"/><polyline points="543.1,9.8 546.2,3.3 551.0,1.7 555.9,2.5 562.3,3.3 565.0,7.4 567.1,2.5 573.6,3.3 580.1,4.2 582.5,5.7"/><polyline points="582.5,5.7 580.1,-2.3 580.8,-10.4 583.3,-16.8 584.9,-20.0 594.6,-21.7 604.2,-22.5 612.3,-18.4 614.0,-16.8"/><polyline points="614.0,-16.8 614.8,-21.7 615.5,-29.4"/><polyline points="614.0,-16.8 614.8,-5.6 615.5,2.4 621.9,3.6 627.3,2.7 629.0,11.7 634.4,17.0 640.7,20.6 641.6,27.8 641.6,34.9"/><polyline points="582.5,5.7 588.1,12.2 594.6,17.0 602.7,20.3 610.7,23.5 617.0,27.6"/><polyline points="615.5,2.4 615.6,15.3 615.6,24.2 617.0,27.6 614.7,36.7 612.9,45.7"/><polyline points="641.6,34.9 639.8,43.9 636.2,49.3 630.8,52.9 623.7,52.9 618.3,49.3 612.9,45.7"/><polyline points="641.6,34.9 645.1,34.1 647.0,36.7 647.9,43.9 647.0,49.3 638.0,53.7 630.8,58.2 621.9,65.4 616.5,73.1 615.5,75.2 615.4,78.1 613.1,88.7 612.3,100.9 610.8,110.0 611.5,111.5"/><polyline points="615.5,75.2 622.2,75.8 628.4,79.6 632.1,84.1 639.0,88.7 642.0,91.0 648.2,94.7 652.7,100.9 654.2,103.2"/><polyline points="654.2,103.2 649.7,110.0 642.0,114.6 634.4,117.6 626.8,118.4 619.1,114.6 611.5,111.5"/><polyline points="719.5,13.2 715.4,14.6 706.4,20.0 697.5,25.4 692.8,29.8 690.3,37.0 688.5,44.1 689.4,51.3 686.7,62.0 679.6,69.2 676.0,76.3 670.6,83.5 663.4,90.7 658.0,97.6 654.2,103.2"/><polyline points="658.0,90.7 661.7,85.3 667.0,79.9 672.3,76.3 670.6,83.5 665.3,88.2 661.7,92.4 658.0,90.7"/><polyline points="611.5,111.5 612.6,118.5 617.0,122.9 621.3,127.9 624.9,133.0 622.0,140.6 617.9,147.0 611.2,150.3 601.8,153.4 589.5,155.1 583.0,156.4 580.6,156.4 581.9,164.4 580.6,170.9 574.0,174.8 567.4,176.2 560.8,173.5 559.5,178.8 559.2,184.9"/></g></g>
</g>
<rect x="489.5" y="-1" width="228" height="181.5" fill="none" stroke="#222" stroke-width="1"/>
<g font-size="4.5" fill="#444"><text x="487" y="4.9" text-anchor="end">22S</text><line x1="487" x2="489.5" y1="2.7" y2="2.7" stroke="#444" stroke-width="0.6"/><text x="487" y="23.0" text-anchor="end">24S</text><line x1="487" x2="489.5" y1="20.8" y2="20.8" stroke="#444" stroke-width="0.6"/><text x="487" y="41.1" text-anchor="end">26S</text><line x1="487" x2="489.5" y1="38.9" y2="38.9" stroke="#444" stroke-width="0.6"/><text x="487" y="59.2" text-anchor="end">28S</text><line x1="487" x2="489.5" y1="57.0" y2="57.0" stroke="#444" stroke-width="0.6"/><text x="487" y="77.3" text-anchor="end">30S</text><line x1="487" x2="489.5" y1="75.1" y2="75.1" stroke="#444" stroke-width="0.6"/><text x="487" y="95.4" text-anchor="end">32S</text><line x1="487" x2="489.5" y1="93.2" y2="93.2" stroke="#444" stroke-width="0.6"/><text x="487" y="113.5" text-anchor="end">34S</text><line x1="487" x2="489.5" y1="111.3" y2="111.3" stroke="#444" stroke-width="0.6"/><text x="487" y="131.6" text-anchor="end">36S</text><line x1="487" x2="489.5" y1="129.4" y2="129.4" stroke="#444" stroke-width="0.6"/><text x="487" y="149.7" text-anchor="end">38S</text><line x1="487" x2="489.5" y1="147.5" y2="147.5" stroke="#444" stroke-width="0.6"/><text x="487" y="167.8" text-anchor="end">40S</text><line x1="487" x2="489.5" y1="165.6" y2="165.6" stroke="#444" stroke-width="0.6"/><text x="505.3" y="186.5" text-anchor="middle">72W</text><line x1="505.3" x2="505.3" y1="180.0" y2="182.0" stroke="#444" stroke-width="0.6"/><text x="528.7" y="186.5" text-anchor="middle">69W</text><line x1="528.7" x2="528.7" y1="180.0" y2="182.0" stroke="#444" stroke-width="0.6"/><text x="552.1" y="186.5" text-anchor="middle">66W</text><line x1="552.1" x2="552.1" y1="180.0" y2="182.0" stroke="#444" stroke-width="0.6"/><text x="575.5" y="186.5" text-anchor="middle">63W</text><line x1="575.5" x2="575.5" y1="180.0" y2="182.0" stroke="#444" stroke-width="0.6"/><text x="598.9" y="186.5" text-anchor="middle">60W</text><line x1="598.9" x2="598.9" y1="180.0" y2="182.0" stroke="#444" stroke-width="0.6"/><text x="622.3" y="186.5" text-anchor="middle">57W</text><line x1="622.3" x2="622.3" y1="180.0" y2="182.0" stroke="#444" stroke-width="0.6"/><text x="645.7" y="186.5" text-anchor="middle">54W</text><line x1="645.7" x2="645.7" y1="180.0" y2="182.0" stroke="#444" stroke-width="0.6"/><text x="669.1" y="186.5" text-anchor="middle">51W</text><line x1="669.1" x2="669.1" y1="180.0" y2="182.0" stroke="#444" stroke-width="0.6"/><text x="692.5" y="186.5" text-anchor="middle">48W</text><line x1="692.5" x2="692.5" y1="180.0" y2="182.0" stroke="#444" stroke-width="0.6"/><text x="715.9" y="186.5" text-anchor="middle">45W</text><line x1="715.9" x2="715.9" y1="180.0" y2="182.0" stroke="#444" stroke-width="0.6"/></g>

<g clip-path="url(#cB)">
  <g filter="url(#bl)"><rect x="480" y="225" width="245" height="185" fill="#ef8426"/><polygon points="480.0,225.0 575.0,225.0 573.0,260.0 568.0,290.0 560.0,300.0 545.0,310.0 540.0,330.0 536.0,360.0 534.0,410.0 480.0,410.0" fill="#e6ae2c"/><polygon points="480.0,225.0 566.0,225.0 565.0,260.0 562.0,290.0 552.0,300.0 540.0,305.0 531.0,320.0 527.0,340.0 526.0,370.0 524.0,410.0 480.0,410.0" fill="#e6dd28"/><ellipse cx="507" cy="243" rx="5" ry="11" fill="#e6ae2c"/><path d="M517.0,253.0 C518.3,250.7 522.8,252.8 525.0,256.0 C527.2,259.2 529.8,266.7 530.0,272.0 C530.2,277.3 527.8,285.8 526.0,288.0 C524.2,290.2 520.5,288.0 519.0,285.0 C517.5,282.0 517.3,275.3 517.0,270.0 C516.7,264.7 515.7,255.3 517.0,253.0Z" fill="#e6ae2c"/><ellipse cx="510" cy="394" rx="8" ry="13" fill="#e6ae2c"/><path d="M531.0,226.0 C535.2,224.8 550.2,224.8 555.0,228.0 C559.8,231.2 559.2,240.2 560.0,245.0 C560.8,249.8 560.7,252.4 559.5,257.0 C558.3,261.6 554.7,267.1 552.8,272.7 C550.9,278.3 549.8,285.8 548.3,290.6 C546.8,295.4 545.6,298.5 543.9,301.7 C542.2,304.9 540.0,307.4 538.0,310.0 C536.0,312.6 533.3,317.0 532.0,317.0 C530.7,317.0 529.9,313.7 530.0,310.0 C530.1,306.3 531.5,300.1 532.7,295.0 C533.9,289.9 535.7,284.2 537.2,279.4 C538.7,274.6 542.4,270.9 541.6,266.0 C540.9,261.1 534.6,255.5 532.7,250.3 C530.8,245.1 530.3,239.1 530.0,235.0 C529.7,230.9 526.8,227.2 531.0,226.0Z" fill="#a2e632"/><path d="M480.0,348.0 C482.0,338.0 489.2,346.3 492.0,350.0 C494.8,353.7 496.3,360.0 497.0,370.0 C497.7,380.0 498.8,403.3 496.0,410.0 C493.2,416.7 482.7,420.3 480.0,410.0 C477.3,399.7 478.0,358.0 480.0,348.0Z" fill="#a2e632"/><ellipse cx="543.5" cy="255" rx="6.5" ry="7" fill="#06da06"/><path d="M556.0,333.0 C558.0,331.3 562.8,332.2 565.0,335.0 C567.2,337.8 568.5,345.0 569.0,350.0 C569.5,355.0 567.3,360.3 568.0,365.0 C568.7,369.7 571.8,370.5 573.0,378.0 C574.2,385.5 578.0,404.7 575.0,410.0 C572.0,415.3 557.8,414.2 555.0,410.0 C552.2,405.8 558.3,393.3 558.0,385.0 C557.7,376.7 553.8,366.7 553.0,360.0 C552.2,353.3 552.5,349.5 553.0,345.0 C553.5,340.5 554.0,334.7 556.0,333.0Z" fill="#e6ae2c"/><path d="M571.0,225.0 C596.7,220.8 699.3,217.1 725.0,225.0 C750.7,232.9 728.0,264.4 725.0,272.7 C722.0,281.0 712.1,273.9 707.3,275.0 C702.5,276.1 699.7,277.6 696.0,279.4 C692.3,281.2 688.7,286.0 685.0,286.0 C681.3,286.0 677.1,282.0 673.7,279.4 C670.3,276.8 667.4,269.4 664.8,270.5 C662.2,271.6 660.2,281.9 658.0,286.0 C655.8,290.1 653.6,290.7 651.4,295.0 C649.2,299.3 647.1,308.0 645.0,312.0 C642.9,316.0 642.3,318.0 639.0,319.0 C635.7,320.0 629.0,319.5 625.0,318.0 C621.0,316.5 617.8,313.0 615.0,310.0 C612.2,307.0 610.5,302.3 608.0,300.0 C605.5,297.7 604.4,297.6 600.0,296.0 C595.6,294.4 586.8,292.3 581.9,290.6 C577.0,288.9 573.0,289.0 570.7,286.0 C568.5,283.0 568.4,278.6 568.4,272.7 C568.4,266.8 570.3,258.2 570.7,250.3 C571.1,242.4 545.3,229.2 571.0,225.0Z" fill="#f8403e"/><path d="M600.0,239.0 C601.8,236.1 604.8,234.2 609.0,232.5 C613.2,230.8 620.2,229.0 625.0,229.0 C629.8,229.0 636.0,229.3 638.0,232.5 C640.0,235.7 638.8,243.5 636.9,248.0 C635.0,252.5 630.7,255.9 626.8,259.3 C622.9,262.7 617.1,267.1 613.4,268.2 C609.7,269.3 606.7,267.1 604.5,266.0 C602.3,264.9 601.1,264.2 600.0,261.5 C598.9,258.8 598.0,253.8 598.0,250.0 C598.0,246.2 598.2,241.9 600.0,239.0Z" fill="#f0068a"/><path d="M658.0,234.7 C660.0,232.6 662.9,231.2 667.0,231.0 C671.1,230.8 679.7,231.1 682.7,233.6 C685.7,236.1 685.0,242.1 685.0,246.0 C685.0,249.9 684.6,255.2 682.7,257.0 C680.8,258.8 676.3,257.7 673.7,257.0 C671.1,256.3 669.6,253.3 667.0,252.6 C664.4,251.9 660.0,254.1 658.0,252.6 C656.0,251.1 654.7,246.6 654.7,243.6 C654.7,240.6 656.0,236.8 658.0,234.7Z" fill="#f0068a"/><path d="M725.0,274.0 C722.0,252.6 712.5,278.8 707.3,281.6 C702.1,284.4 697.1,288.2 693.9,290.6 C690.7,293.0 690.6,294.8 688.0,296.0 C685.4,297.2 681.3,297.3 678.0,298.0 C674.7,298.7 670.7,298.7 668.0,300.0 C665.3,301.3 662.5,303.0 662.0,306.0 C661.5,309.0 663.3,314.7 665.0,318.0 C666.7,321.3 669.5,323.7 672.0,326.0 C674.5,328.3 679.3,330.3 680.0,332.0 C680.7,333.7 679.3,335.0 676.0,336.0 C672.7,337.0 666.0,337.8 660.0,338.0 C654.0,338.2 645.8,337.5 640.0,337.0 C634.2,336.5 629.2,334.8 625.0,335.0 C620.8,335.2 617.2,336.3 615.0,338.0 C612.8,339.7 612.8,343.0 612.0,345.0 C611.2,347.0 610.0,346.7 610.0,350.0 C610.0,353.3 612.3,361.3 612.0,365.0 C611.7,368.7 611.7,371.8 608.0,372.0 C604.3,372.2 595.3,367.2 590.0,366.0 C584.7,364.8 578.8,363.0 576.0,365.0 C573.2,367.0 572.7,370.5 573.0,378.0 C573.3,385.5 552.7,404.7 578.0,410.0 C603.3,415.3 700.5,432.7 725.0,410.0 C749.5,387.3 728.0,295.4 725.0,274.0Z" fill="#e6ae2c"/><path d="M612.0,410.0 C593.5,406.7 612.7,394.8 614.0,390.0 C615.3,385.2 614.7,383.2 620.0,381.0 C625.3,378.8 638.6,378.8 646.0,377.0 C653.4,375.2 659.2,371.6 664.6,370.0 C670.0,368.4 674.6,369.2 678.5,367.7 C682.4,366.2 684.6,363.5 687.7,360.8 C690.8,358.1 693.5,354.6 697.0,351.5 C700.5,348.4 705.4,344.6 708.5,342.3 C711.6,340.0 712.6,338.9 715.4,337.7 C718.1,336.5 723.4,322.9 725.0,335.0 C726.6,347.1 743.8,397.5 725.0,410.0 C706.2,422.5 630.5,413.3 612.0,410.0Z" fill="#e6dd28"/></g>
  <g filter="url(#bl2)"><g fill="#000"><ellipse cx="581.9" cy="412.4" rx="1.59" ry="2.31"/><ellipse cx="581.3" cy="421.1" rx="0.94" ry="2.53"/><ellipse cx="610.1" cy="365.8" rx="1.66" ry="2.17"/><ellipse cx="689.2" cy="289.0" rx="1.44" ry="1.59"/><ellipse cx="688.8" cy="308.5" rx="0.94" ry="3.25"/><ellipse cx="664.6" cy="229.8" rx="0.87" ry="1.59"/></g><g fill="none" stroke="#000" stroke-width="0.7200000000000001" stroke-opacity="0.45"><polyline points="518.9,251.7 530.3,250.6"/><polyline points="515.8,290.4 532.8,289.3"/><polyline points="510.1,322.9 521.6,321.8"/><polyline points="506.2,356.1 518.4,355.0"/><polyline points="502.8,367.3 520.2,366.2"/><polyline points="500.0,378.5 519.5,377.4"/><polyline points="497.1,388.2 515.8,387.1"/><polyline points="494.2,398.0 514.0,396.9"/><polyline points="491.7,411.7 511.5,410.6"/><polyline points="490.6,424.7 508.6,423.6"/></g><g fill="none" stroke="#000" stroke-width="0.9" stroke-linejoin="round" stroke-opacity="0.78"><polyline points="531.0,236.3 544.7,235.6 549.6,231.5 553.4,226.2"/><polyline points="555.9,248.4 578.5,248.4"/><polyline points="567.1,226.2 568.8,242.1 570.4,248.4"/><polyline points="550.5,257.2 550.4,263.7 549.6,269.4 548.8,277.4 546.4,282.3 546.3,285.4 548.8,295.0 552.0,296.6 556.8,295.8 561.6,295.0"/><polyline points="543.1,265.4 544.0,265.4 543.1,270.9"/><polyline points="563.9,270.9 565.5,277.4 562.3,282.3 557.4,280.7 552.0,280.3"/><polyline points="578.5,260.6 576.9,270.9 574.3,283.9 573.6,290.1"/><polyline points="574.3,283.9 584.9,285.5 591.0,285.4 597.9,292.4 604.9,299.4 607.2,308.7"/><polyline points="529.4,309.6 539.1,314.4 547.1,317.6 553.6,324.1 558.5,328.9 561.6,324.1 566.4,325.6 574.6,325.6 582.3,327.2"/><polyline points="529.4,327.2 537.5,333.7 542.3,338.6 544.7,346.6 542.3,350.3"/><polyline points="542.3,348.2 556.8,348.2"/><polyline points="564.1,290.1 585.1,290.1 585.1,313.3"/><polyline points="564.9,290.2 564.1,306.3 560.0,311.1 558.5,325.6 556.8,332.1 554.4,338.6 553.6,350.3"/><polyline points="551.2,296.6 558.5,295.0 563.3,298.3 561.6,308.0 558.5,311.1 553.6,309.6 551.2,303.1 551.2,296.6"/><polyline points="585.1,313.3 604.9,312.2 607.2,308.7"/><polyline points="585.1,313.3 583.9,327.2 582.7,341.2 583.9,352.9 579.3,364.5 574.6,371.5 572.2,374.1"/><polyline points="560.6,327.2 572.2,327.2 582.7,327.2"/><polyline points="583.9,352.9 595.6,355.2 607.2,362.2 610.7,366.9"/><polyline points="607.2,308.7 602.5,320.3 597.9,331.9 595.6,345.9 594.4,352.9 597.9,357.5 607.2,364.5 610.7,366.9"/><polyline points="601.4,331.9 614.2,331.9 616.2,332.3"/><polyline points="607.2,308.7 612.9,301.3"/><polyline points="630.0,309.9 632.8,314.2"/><polyline points="520.6,347.9 530.3,349.6 540.0,349.6 543.3,349.6"/><polyline points="541.6,349.6 543.3,356.0 544.7,367.3 546.5,375.3 548.1,385.0"/><polyline points="554.5,349.6 554.5,385.0"/><polyline points="559.6,374.1 572.2,374.1"/><polyline points="535.1,385.0 572.7,385.0"/><polyline points="535.1,385.0 534.5,410.7"/><polyline points="572.2,374.1 572.7,385.0 572.7,427.8"/><polyline points="520.6,391.5 528.7,396.3 536.8,399.4 540.0,404.3"/><polyline points="522.6,393.6 534.5,398.9 541.0,404.2 547.6,408.1 560.8,410.7 572.7,414.7 579.4,413.8"/><polyline points="510.8,429.1 520.0,421.3 527.9,416.0 535.8,410.7"/><polyline points="556.9,418.6 567.4,423.9 574.0,427.8 580.6,427.8"/><polyline points="584.9,243.5 599.4,245.2 599.4,258.1 601.1,259.8 614.0,259.8"/><polyline points="602.7,259.8 597.8,269.4 593.0,272.6"/><polyline points="615.5,279.8 621.9,278.0 627.3,276.2 636.2,273.5"/><polyline points="621.9,259.0 623.7,267.3 627.3,274.4"/><polyline points="618.3,288.8 625.5,287.0 632.6,285.2 641.6,283.4"/><polyline points="616.5,295.9 623.7,294.1 630.8,292.3 639.8,290.5"/><polyline points="619.8,301.3 627.3,297.7 634.4,299.5 638.9,299.5"/><polyline points="625.5,278.0 624.2,285.4 625.5,292.6 624.2,301.3 623.7,308.5"/><polyline points="632.6,274.4 631.4,281.8 632.6,291.2 632.6,303.1"/><polyline points="615.9,270.9 621.3,270.2 625.6,265.9"/><polyline points="636.5,278.2 637.2,285.4 635.7,292.6"/><polyline points="663.4,226.2 663.4,230.9 670.6,234.4 674.2,230.9 676.2,226.2"/><polyline points="670.6,234.4 665.2,243.4 659.9,254.1 654.4,263.1 647.3,270.2 643.4,276.9"/><polyline points="670.6,238.0 683.1,239.8 684.9,242.5 695.7,239.8 699.3,245.2 701.0,252.4 702.8,259.5 708.2,257.7 719.5,255.8"/><polyline points="654.4,263.1 665.2,264.0 677.8,265.8 681.3,272.1 683.1,279.2 688.5,286.4 690.6,286.8"/><polyline points="647.0,297.6 657.7,298.0 665.2,298.8 670.6,295.2 686.7,293.5 689.2,293.0"/><polyline points="647.0,304.9 657.7,304.1 665.2,306.9 672.3,314.0 677.8,315.8 682.0,321.5"/><polyline points="656.2,330.1 670.6,331.9"/><polyline points="640.1,226.2 644.4,234.9 656.0,245.0 665.2,243.4"/><polyline points="618.4,339.5 625.6,338.8 632.1,339.7"/><polyline points="613.3,348.9 620.6,347.4 627.1,345.3 632.8,346.7 639.0,344.3"/><polyline points="612.6,357.5 619.8,356.1 627.1,354.7 632.8,357.5 641.5,356.1 648.2,350.3"/><polyline points="627.1,345.3 627.8,353.9 627.1,361.2 626.8,374.0"/><polyline points="632.8,357.5 634.3,364.8 634.4,373.2"/><polyline points="641.5,356.1 643.0,363.3 642.0,370.2"/><polyline points="619.8,356.1 619.1,363.3 619.1,370.2"/><polyline points="611.9,361.9 619.1,363.3 627.1,361.2 634.3,364.8 643.0,363.3 649.5,360.4"/><polyline points="620.6,332.3 622.0,337.3 620.6,347.4"/></g><g fill="none" stroke="#000" stroke-width="1.6" stroke-linejoin="round" stroke-opacity="0.8500000000000001"><polyline points="518.9,226.2 518.9,250.0 517.8,261.3 516.5,267.8 517.3,277.4 516.6,285.4 514.9,295.0 511.7,309.6 510.1,317.6 508.6,328.7 507.8,343.1 506.2,356.0 502.8,368.9 499.7,381.8 494.9,394.6 492.4,406.8 491.0,420.0 489.7,434.4 489.1,440.5"/><polyline points="531.0,226.2 531.0,230.5 530.3,238.8 531.0,245.2 530.3,250.0 534.3,253.3 536.7,263.0 539.1,265.4 543.1,265.4 543.1,270.9 542.3,277.4 537.5,280.7 532.7,282.3 532.7,285.4 533.5,293.5 532.7,301.5 529.4,308.0 524.5,317.6 522.1,325.6 519.7,333.7 517.3,341.7 518.2,352.8 520.6,362.5 519.0,375.3 515.8,388.2 514.2,397.9 512.6,406.6 509.5,420.0 506.8,434.4 506.5,440.5"/><polyline points="543.1,265.4 546.2,258.9 551.0,257.3 555.9,258.1 562.3,258.9 565.0,263.0 567.1,258.1 573.6,258.9 580.1,259.8 582.5,261.3"/><polyline points="582.5,261.3 580.1,253.3 580.8,245.2 583.3,238.8 584.9,235.6 594.6,233.9 604.2,233.1 612.3,237.2 614.0,238.8"/><polyline points="614.0,238.8 614.8,233.9 615.5,226.2"/><polyline points="614.0,238.8 614.8,250.0 615.5,258.0 621.9,259.2 627.3,258.3 629.0,267.3 634.4,272.6 640.7,276.2 641.6,283.4 641.6,290.5"/><polyline points="582.5,261.3 588.1,267.8 594.6,272.6 602.7,275.9 610.7,279.1 617.0,283.2"/><polyline points="615.5,258.0 615.6,270.9 615.6,279.8 617.0,283.2 614.7,292.3 612.9,301.3"/><polyline points="641.6,290.5 639.8,299.5 636.2,304.9 630.8,308.5 623.7,308.5 618.3,304.9 612.9,301.3"/><polyline points="641.6,290.5 645.1,289.7 647.0,292.3 647.9,299.5 647.0,304.9 638.0,309.3 630.8,313.8 621.9,321.0 616.5,328.7 615.5,330.8 615.4,333.7 613.1,344.3 612.3,356.5 610.8,365.6 611.5,367.1"/><polyline points="615.5,330.8 622.2,331.4 628.4,335.2 632.1,339.7 639.0,344.3 642.0,346.6 648.2,350.3 652.7,356.5 654.2,358.8"/><polyline points="654.2,358.8 649.7,365.6 642.0,370.2 634.4,373.2 626.8,374.0 619.1,370.2 611.5,367.1"/><polyline points="719.5,268.8 715.4,270.2 706.4,275.6 697.5,281.0 692.8,285.4 690.3,292.6 688.5,299.7 689.4,306.9 686.7,317.6 679.6,324.8 676.0,331.9 670.6,339.1 663.4,346.3 658.0,353.2 654.2,358.8"/><polyline points="658.0,346.3 661.7,340.9 667.0,335.5 672.3,331.9 670.6,339.1 665.3,343.8 661.7,348.0 658.0,346.3"/><polyline points="611.5,367.1 612.6,374.1 617.0,378.5 621.3,383.5 624.9,388.6 622.0,396.2 617.9,402.6 611.2,405.9 601.8,409.0 589.5,410.7 583.0,412.0 580.6,412.0 581.9,420.0 580.6,426.5 574.0,430.4 567.4,431.8 560.8,429.1 559.5,434.4 559.2,440.5"/></g></g>
</g>
<rect x="489.5" y="231.5" width="228" height="175" fill="none" stroke="#333" stroke-width="1"/>
<g font-size="4.5" fill="#444"><text x="487" y="242.4" text-anchor="end">20S</text><line x1="487" x2="489.5" y1="240.2" y2="240.2" stroke="#444" stroke-width="0.6"/><text x="487" y="260.5" text-anchor="end">22S</text><line x1="487" x2="489.5" y1="258.3" y2="258.3" stroke="#444" stroke-width="0.6"/><text x="487" y="278.6" text-anchor="end">24S</text><line x1="487" x2="489.5" y1="276.4" y2="276.4" stroke="#444" stroke-width="0.6"/><text x="487" y="296.7" text-anchor="end">26S</text><line x1="487" x2="489.5" y1="294.5" y2="294.5" stroke="#444" stroke-width="0.6"/><text x="487" y="314.8" text-anchor="end">28S</text><line x1="487" x2="489.5" y1="312.6" y2="312.6" stroke="#444" stroke-width="0.6"/><text x="487" y="332.9" text-anchor="end">30S</text><line x1="487" x2="489.5" y1="330.7" y2="330.7" stroke="#444" stroke-width="0.6"/><text x="487" y="351.0" text-anchor="end">32S</text><line x1="487" x2="489.5" y1="348.8" y2="348.8" stroke="#444" stroke-width="0.6"/><text x="487" y="369.1" text-anchor="end">34S</text><line x1="487" x2="489.5" y1="366.9" y2="366.9" stroke="#444" stroke-width="0.6"/><text x="487" y="387.2" text-anchor="end">36S</text><line x1="487" x2="489.5" y1="385.0" y2="385.0" stroke="#444" stroke-width="0.6"/><text x="487" y="405.3" text-anchor="end">38S</text><line x1="487" x2="489.5" y1="403.1" y2="403.1" stroke="#444" stroke-width="0.6"/></g>

<g font-size="5.5" fill="#333"><polygon points="736,4.2 742,4.2 739.0,-10.0" fill="#7a1020"/><rect x="736" y="4.2" width="6" height="15.0" fill="#f0068a"/><rect x="736" y="18.9" width="6" height="15.0" fill="#f8403e"/><rect x="736" y="33.7" width="6" height="15.0" fill="#ea7a30"/><rect x="736" y="48.4" width="6" height="15.0" fill="#e8a838"/><rect x="736" y="63.1" width="6" height="15.0" fill="#dcd838"/><rect x="736" y="77.9" width="6" height="15.0" fill="#a2e632"/><rect x="736" y="92.6" width="6" height="15.0" fill="#20c020"/><rect x="736" y="107.3" width="6" height="15.0" fill="#22b8c0"/><rect x="736" y="122.0" width="6" height="15.0" fill="#30a0e8"/><rect x="736" y="136.8" width="6" height="15.0" fill="#3040e0"/><polygon points="736,151.5 742,151.5 739.0,166.2" fill="#8a20b0"/><line x1="736" x2="742" y1="4.2" y2="4.2" stroke="#333" stroke-width="0.6"/><text x="744" y="6.4">45</text><line x1="736" x2="742" y1="18.9" y2="18.9" stroke="#333" stroke-width="0.6"/><text x="744" y="21.1">40</text><line x1="736" x2="742" y1="33.7" y2="33.7" stroke="#333" stroke-width="0.6"/><text x="744" y="35.9">35</text><line x1="736" x2="742" y1="48.4" y2="48.4" stroke="#333" stroke-width="0.6"/><text x="744" y="50.6">30</text><line x1="736" x2="742" y1="63.1" y2="63.1" stroke="#333" stroke-width="0.6"/><text x="744" y="65.3">25</text><line x1="736" x2="742" y1="77.9" y2="77.9" stroke="#333" stroke-width="0.6"/><text x="744" y="80.1">20</text><line x1="736" x2="742" y1="92.6" y2="92.6" stroke="#333" stroke-width="0.6"/><text x="744" y="94.8">15</text><line x1="736" x2="742" y1="107.3" y2="107.3" stroke="#333" stroke-width="0.6"/><text x="744" y="109.5">10</text><line x1="736" x2="742" y1="122.0" y2="122.0" stroke="#333" stroke-width="0.6"/><text x="744" y="124.2">5</text><line x1="736" x2="742" y1="136.8" y2="136.8" stroke="#333" stroke-width="0.6"/><text x="744" y="139.0">0</text><line x1="736" x2="742" y1="151.5" y2="151.5" stroke="#333" stroke-width="0.6"/><text x="742" y="153.7">-5</text></g>
<g font-size="5.5" fill="#333"><polygon points="736,260.0 742,260.0 739.0,246.0" fill="#7a1020"/><rect x="736" y="260.0" width="6" height="15.0" fill="#f0068a"/><rect x="736" y="274.7" width="6" height="15.0" fill="#f8403e"/><rect x="736" y="289.5" width="6" height="15.0" fill="#ea7a30"/><rect x="736" y="304.2" width="6" height="15.0" fill="#e8a838"/><rect x="736" y="318.9" width="6" height="15.0" fill="#dcd838"/><rect x="736" y="333.6" width="6" height="15.0" fill="#a2e632"/><rect x="736" y="348.4" width="6" height="15.0" fill="#20c020"/><rect x="736" y="363.1" width="6" height="15.0" fill="#22b8c0"/><rect x="736" y="377.8" width="6" height="15.0" fill="#30a0e8"/><rect x="736" y="392.6" width="6" height="15.0" fill="#3040e0"/><polygon points="736,407.3 742,407.3 739.0,422.0" fill="#8a20b0"/><line x1="736" x2="742" y1="260.0" y2="260.0" stroke="#333" stroke-width="0.6"/><text x="744" y="262.2">45</text><line x1="736" x2="742" y1="274.7" y2="274.7" stroke="#333" stroke-width="0.6"/><text x="744" y="276.9">40</text><line x1="736" x2="742" y1="289.5" y2="289.5" stroke="#333" stroke-width="0.6"/><text x="744" y="291.7">35</text><line x1="736" x2="742" y1="304.2" y2="304.2" stroke="#333" stroke-width="0.6"/><text x="744" y="306.4">30</text><line x1="736" x2="742" y1="318.9" y2="318.9" stroke="#333" stroke-width="0.6"/><text x="744" y="321.1">25</text><line x1="736" x2="742" y1="333.6" y2="333.6" stroke="#333" stroke-width="0.6"/><text x="744" y="335.8">20</text><line x1="736" x2="742" y1="348.4" y2="348.4" stroke="#333" stroke-width="0.6"/><text x="744" y="350.6">15</text><line x1="736" x2="742" y1="363.1" y2="363.1" stroke="#333" stroke-width="0.6"/><text x="744" y="365.3">10</text><line x1="736" x2="742" y1="377.8" y2="377.8" stroke="#333" stroke-width="0.6"/><text x="744" y="380.0">5</text><line x1="736" x2="742" y1="392.6" y2="392.6" stroke="#333" stroke-width="0.6"/><text x="744" y="394.8">0</text><line x1="736" x2="742" y1="407.3" y2="407.3" stroke="#333" stroke-width="0.6"/><text x="742" y="409.5">-5</text></g>
</svg>
</body></html>
